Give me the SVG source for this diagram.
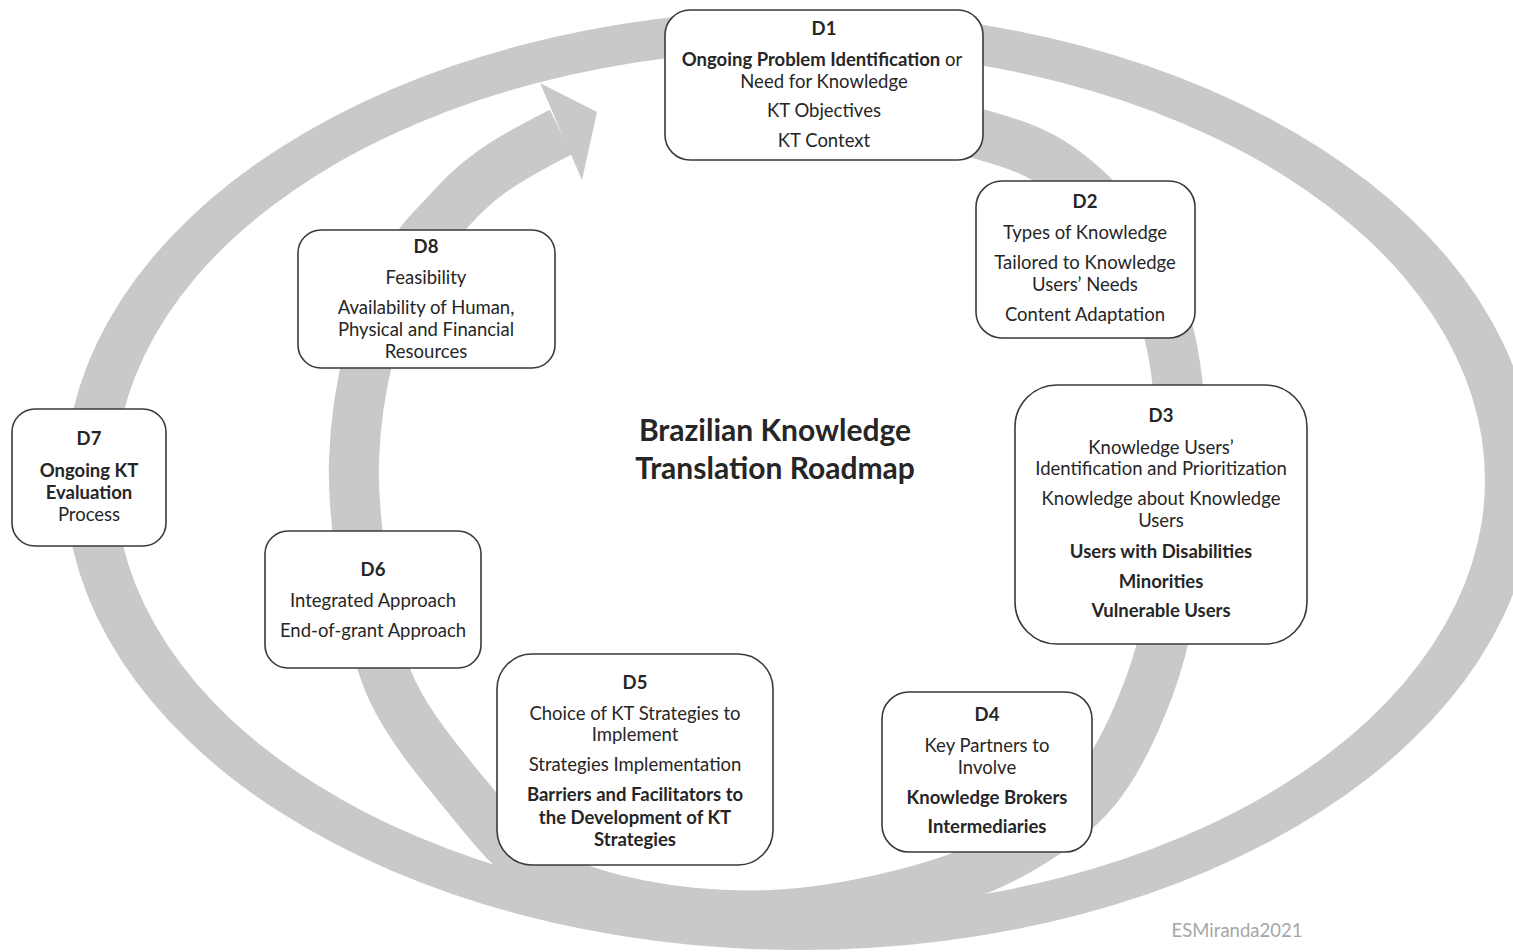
<svg xmlns="http://www.w3.org/2000/svg" width="1513" height="952" viewBox="0 0 1513 952">
<style>
.ring{fill:#c9c9c9;fill-rule:evenodd}
.arc{fill:none;stroke:#c9c9c9;stroke-width:50}
.head{fill:#c9c9c9}
.box{fill:#fff;stroke:#3a3a3a;stroke-width:1.6}
text{font-family:Lato,"Liberation Sans",sans-serif;font-size:18.5px;fill:#262626;text-anchor:middle}
.b{font-weight:bold}
.title{font-size:30px;font-weight:bold}
.wm{fill:#a6a6a6;font-size:18.5px}
</style>
<rect width="1513" height="952" fill="#fff"/>
<g id="connectors">
<path class="ring" d="M65 480 A735 470 0 1 0 1535 480 A735 470 0 1 0 65 480 Z M115 480 A685 430 0 1 0 1485 480 A685 430 0 1 0 115 480 Z"/>
<path class="arc" d="M700,108 C711.7,107.3 743.3,103.7 770,104 C796.7,104.3 824.5,104.8 860,110 C895.5,115.2 949.7,125.3 983,135 C1016.3,144.7 1036.3,151.3 1060,168 C1083.7,184.7 1107,208 1125,235 C1143,262 1158.5,294.2 1168,330 C1177.5,365.8 1180.8,408.3 1182,450 C1183.2,491.7 1180.7,540 1175,580 C1169.3,620 1161.3,655 1148,690 C1134.7,725 1118,762.5 1095,790 C1072,817.5 1042.5,837.5 1010,855 C977.5,872.5 940,885 900,895 C860,905 813.3,913.3 770,915 C726.7,916.7 678.3,912.5 640,905 C601.7,897.5 568.3,887.5 540,870 C511.7,852.5 494.7,830 470,800 C445.3,770 409.8,728.3 392,690 C374.2,651.7 369.3,608.3 363,570 C356.7,531.7 352.8,496.7 354,460 C355.2,423.3 361.5,382.5 370,350 C378.5,317.5 392.5,287.5 405,265 C417.5,242.5 430.8,230.3 445,215 C459.2,199.7 470.7,186.8 490,173 C509.3,159.2 537.5,143.8 561,132"/>
<polygon class="head" points="540,83 597,112 582,180"/>
</g>
<g id="title">
<text class="title" x="775" y="441">Brazilian Knowledge</text>
<text class="title" x="775" y="479">Translation Roadmap</text>
</g>
<g id="D1">
<rect class="box" x="665" y="10" width="318" height="150" rx="25"/>
<text class="b" x="824" y="35">D1</text>
<text x="822" y="66"><tspan class="b">Ongoing Problem Identification</tspan> or</text>
<text x="824" y="88">Need for Knowledge</text>
<text x="824" y="117">KT Objectives</text>
<text x="824" y="147">KT Context</text>
</g>
<g id="D2">
<rect class="box" x="976" y="181" width="219" height="157" rx="26"/>
<text class="b" x="1085" y="208">D2</text>
<text x="1085" y="239">Types of Knowledge</text>
<text x="1085" y="269">Tailored to Knowledge</text>
<text x="1085" y="291">Users’ Needs</text>
<text x="1085" y="321">Content Adaptation</text>
</g>
<g id="D3">
<rect class="box" x="1015" y="385" width="292" height="259" rx="42"/>
<text class="b" x="1161" y="422">D3</text>
<text x="1161" y="454">Knowledge Users’</text>
<text x="1161" y="475">Identification and Prioritization</text>
<text x="1161" y="505">Knowledge about Knowledge</text>
<text x="1161" y="527">Users</text>
<text class="b" x="1161" y="558">Users with Disabilities</text>
<text class="b" x="1161" y="588">Minorities</text>
<text class="b" x="1161" y="617">Vulnerable Users</text>
</g>
<g id="D4">
<rect class="box" x="882" y="692" width="210" height="160" rx="27"/>
<text class="b" x="987" y="721">D4</text>
<text x="987" y="752">Key Partners to</text>
<text x="987" y="774">Involve</text>
<text class="b" x="987" y="804">Knowledge Brokers</text>
<text class="b" x="987" y="833">Intermediaries</text>
</g>
<g id="D5">
<rect class="box" x="497" y="654" width="276" height="211" rx="35"/>
<text class="b" x="635" y="689">D5</text>
<text x="635" y="720">Choice of KT Strategies to</text>
<text x="635" y="741">Implement</text>
<text x="635" y="771">Strategies Implementation</text>
<text class="b" x="635" y="801">Barriers and Facilitators to</text>
<text class="b" x="635" y="824">the Development of  KT</text>
<text class="b" x="635" y="846">Strategies</text>
</g>
<g id="D6">
<rect class="box" x="265" y="531" width="216" height="137" rx="23"/>
<text class="b" x="373" y="576">D6</text>
<text x="373" y="607">Integrated Approach</text>
<text x="373" y="637">End-of-grant Approach</text>
</g>
<g id="D7">
<rect class="box" x="12" y="409" width="154" height="137" rx="23"/>
<text class="b" x="89" y="445">D7</text>
<text class="b" x="89" y="477">Ongoing KT</text>
<text class="b" x="89" y="499">Evaluation</text>
<text x="89" y="521">Process</text>
</g>
<g id="D8">
<rect class="box" x="298" y="230" width="257" height="138" rx="23"/>
<text class="b" x="426" y="253">D8</text>
<text x="426" y="284">Feasibility</text>
<text x="426" y="314">Availability of Human,</text>
<text x="426" y="336">Physical and Financial</text>
<text x="426" y="358">Resources</text>
</g>
<g id="watermark">
<text class="wm" x="1237" y="937">ESMiranda2021</text>
</g>
</svg>
